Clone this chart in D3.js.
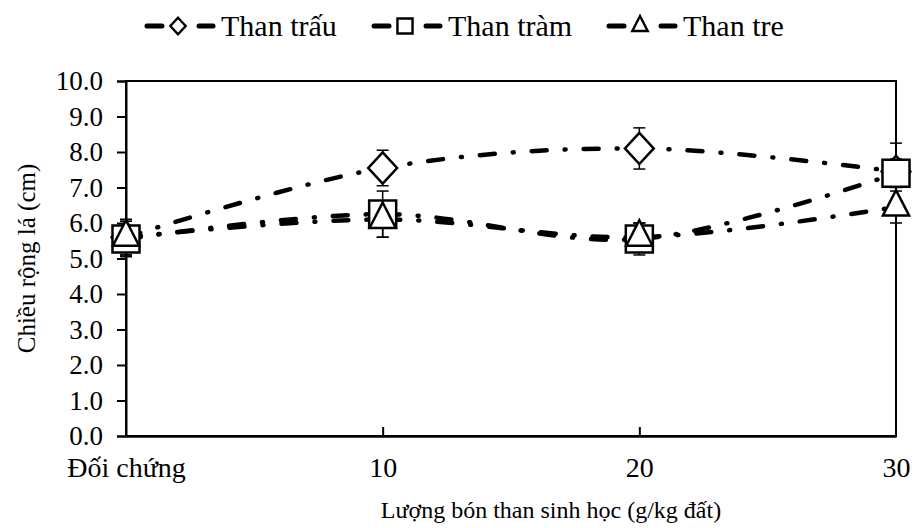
<!DOCTYPE html>
<html lang="vi">
<head>
<meta charset="utf-8">
<script src="https://d3js.org/d3.v7.min.js"></script>
<style>
  body { margin: 0; background: #fff; }
  svg text { font-family: "Liberation Serif", "Times New Roman", serif !important; fill: #000; }
</style>
</head>
<body>
<div id="chart"></div>
<script>
const width = 912, height = 528;

// data
const categories = ["Đối chứng", "10", "20", "30"];
const seriesNames = ["Than trấu", "Than tràm", "Than tre"];
const thanTrau = [5.6, 7.55, 8.1, 7.45];
const thanTram = [5.55, 6.25, 5.55, 7.4];
const thanTre = [5.6, 6.1, 5.6, 6.45];
const errTrau = [0.5, 0.5, 0.58, 0.8];
const errTram = [0.5, 0.65, 0.45, 0.4];
const errTre = [0.5, 0.5, 0.4, 0.45];
const yTicks = [0, 1, 2, 3, 4, 5, 6, 7, 8, 9, 10];

const series = [
  { name: seriesNames[0], values: thanTrau, err: errTrau, symbol: d3.symbolDiamond2, size: 530, legSize: 150, sy: 1.08 },
  { name: seriesNames[1], values: thanTram, err: errTram, symbol: d3.symbolSquare2, size: 930, legSize: 290, sy: 1 },
  { name: seriesNames[2], values: thanTre, err: errTre, symbol: d3.symbolTriangle2, size: 490, legSize: 170, sy: 1.12 }
];

const margin = { left: 126, right: 16, top: 81, bottom: 92 };

const svg = d3.select("#chart").append("svg")
  .attr("width", width).attr("height", height);

const x = d3.scalePoint().domain(categories).range([margin.left, width - margin.right]);
const y = d3.scaleLinear().domain([0, 10]).range([height - margin.bottom, margin.top]);

// plot area border
svg.append("rect")
  .attr("x", x.range()[0]).attr("y", y(10))
  .attr("width", x.range()[1] - x.range()[0])
  .attr("height", y(0) - y(10))
  .attr("fill", "none").attr("stroke", "#000").attr("stroke-width", 2);

// y axis
const yAxis = svg.append("g")
  .attr("transform", `translate(${margin.left},0)`)
  .call(d3.axisLeft(y).tickValues(yTicks).tickFormat(d3.format(".1f")).tickSize(9).tickPadding(14));
yAxis.select(".domain").attr("stroke-width", 2);
yAxis.selectAll(".tick line").attr("stroke-width", 2);
yAxis.selectAll("text").attr("font-size", 27);

// x axis (ticks inside)
const xAxis = svg.append("g")
  .attr("transform", `translate(0,${y(0)})`)
  .call(d3.axisBottom(x).tickSize(0).tickPadding(21));
xAxis.select(".domain").attr("stroke-width", 2.5);
xAxis.selectAll("text").attr("font-size", 28);
xAxis.selectAll(".tick")
  .filter(d => d === "10" || d === "20")
  .append("line").attr("y1", 0).attr("y2", -9).attr("stroke", "#000").attr("stroke-width", 2);

// axis titles
svg.append("text")
  .attr("x", 551).attr("y", 518)
  .attr("text-anchor", "middle").attr("font-size", 24)
  .text("Lượng bón than sinh học (g/kg đất)");

svg.append("text")
  .attr("transform", `translate(35,${(y(0) + y(10)) / 2}) rotate(-90)`)
  .attr("text-anchor", "middle").attr("font-size", 25)
  .text("Chiều rộng lá (cm)");

const dash = "15,18,1,18";
const line = d3.line()
  .x((d, i) => x(categories[i]))
  .y(d => y(d))
  .curve(d3.curveCatmullRom.alpha(0.5));

// lines
series.forEach(s => {
  svg.append("path")
    .datum(s.values)
    .attr("d", line)
    .attr("fill", "none")
    .attr("stroke", "#000")
    .attr("stroke-width", 4.5)
    .attr("stroke-linecap", "round")
    .attr("stroke-dasharray", dash);
});

// error bars
series.forEach(s => {
  const g = svg.append("g");
  s.values.forEach((v, i) => {
    const cx = x(categories[i]);
    g.append("line")
      .attr("x1", cx).attr("x2", cx)
      .attr("y1", y(v - s.err[i])).attr("y2", y(v + s.err[i]))
      .attr("stroke", "#000").attr("stroke-width", 1.5);
    [v - s.err[i], v + s.err[i]].forEach(e => {
      g.append("line")
        .attr("x1", cx - 6).attr("x2", cx + 6)
        .attr("y1", y(e)).attr("y2", y(e))
        .attr("stroke", "#000").attr("stroke-width", 1.5);
    });
  });
});

// markers
series.forEach(s => {
  svg.append("g").selectAll("path")
    .data(s.values)
    .join("path")
    .attr("transform", (d, i) => `translate(${x(categories[i])},${y(d)}) scale(1,${s.sy})`)
    .attr("d", d3.symbol().type(s.symbol).size(s.size))
    .attr("fill", "#fff")
    .attr("stroke", "#000")
    .attr("stroke-width", 2.5)
    .attr("vector-effect", "non-scaling-stroke");
});

// legend
const legendX = [145, 372, 607];
const legend = svg.append("g");
series.forEach((s, i) => {
  const g = legend.append("g").attr("transform", `translate(${legendX[i]},26)`);
  g.append("line").attr("x1", 2).attr("x2", 17).attr("stroke", "#000").attr("stroke-width", 5).attr("stroke-linecap", "round");
  g.append("line").attr("x1", 54).attr("x2", 68).attr("stroke", "#000").attr("stroke-width", 5).attr("stroke-linecap", "round");
  g.append("path")
    .attr("transform", `translate(33,0) scale(1,${s.sy})`)
    .attr("d", d3.symbol().type(s.symbol).size(s.legSize))
    .attr("fill", "#fff").attr("stroke", "#000").attr("stroke-width", 2.4)
    .attr("vector-effect", "non-scaling-stroke");
  g.append("text")
    .attr("x", 76).attr("y", 10)
    .attr("font-size", 30)
    .text(s.name);
});
</script>
</body>
</html>
